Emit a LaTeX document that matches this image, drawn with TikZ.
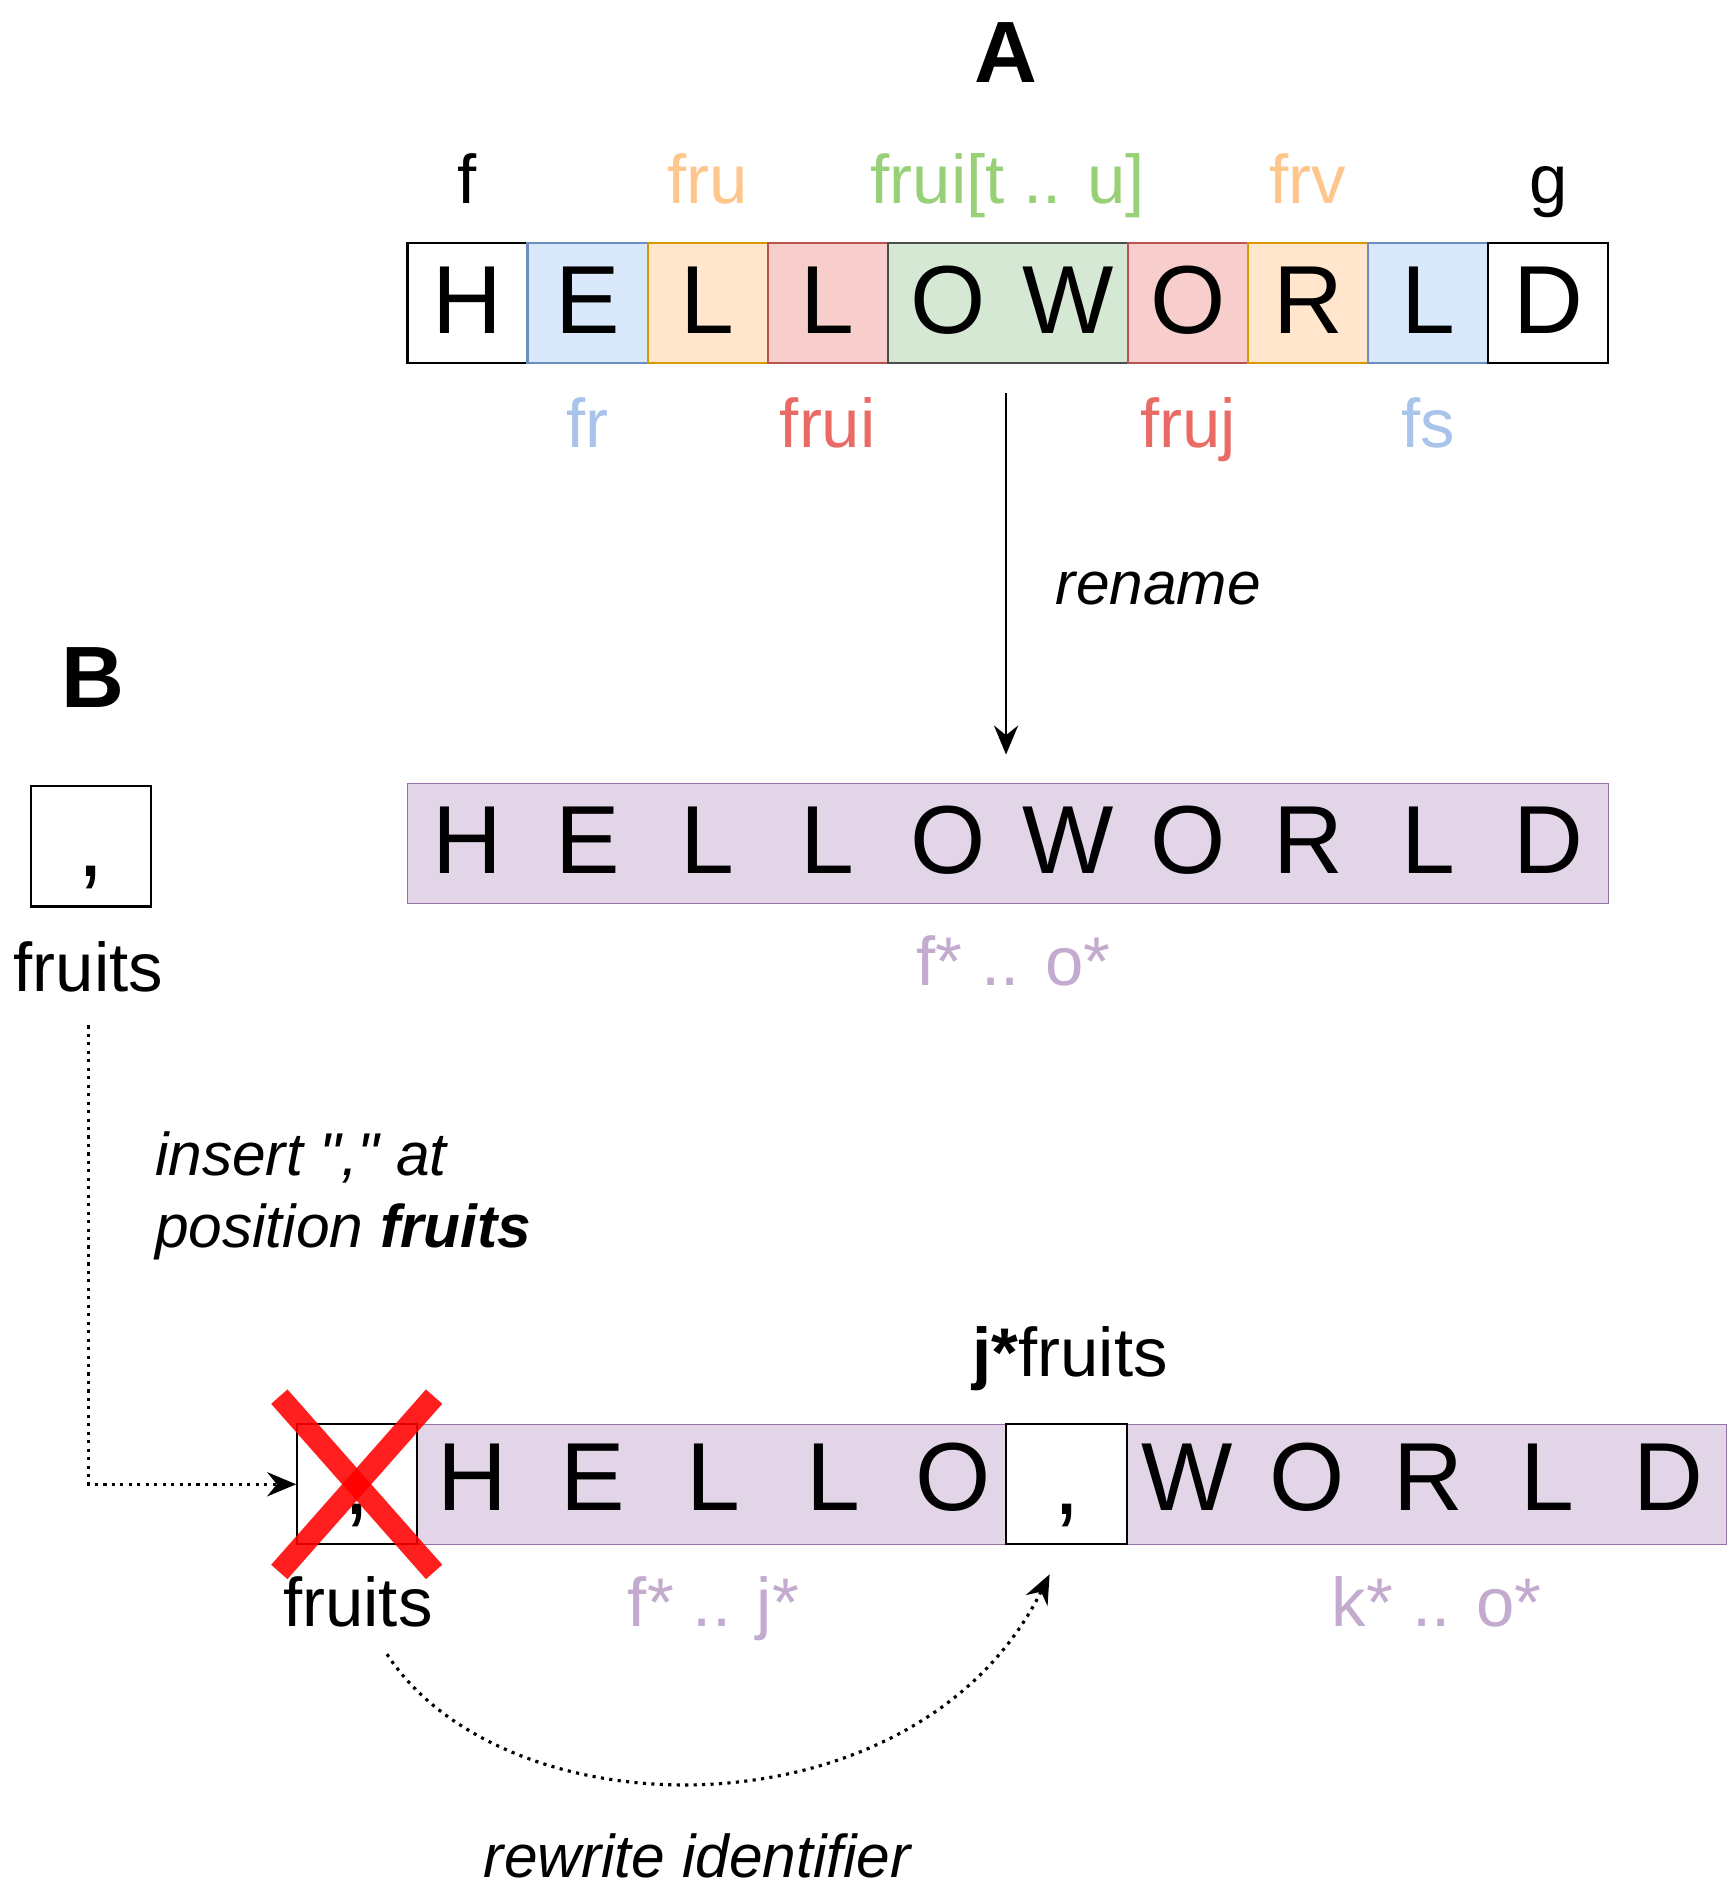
\documentclass[tikz,border=0pt]{standalone}
\usepackage{fontspec}
\setmainfont{Liberation Sans}
\newfontfamily\plainq{Liberation Sans}[Ligatures=TeXOff]
\usetikzlibrary{arrows.meta}
\definecolor{bfill}{HTML}{DAE8FC}\definecolor{bdraw}{HTML}{6C8EBF}
\definecolor{ofill}{HTML}{FFE6CC}\definecolor{odraw}{HTML}{D79B00}
\definecolor{rfill}{HTML}{F8CECC}\definecolor{rdraw}{HTML}{B85450}
\definecolor{gfill}{HTML}{D5E8D4}\definecolor{gdraw}{HTML}{82B366}
\definecolor{pfill}{HTML}{E1D5E7}\definecolor{pdraw}{HTML}{9673A6}
\definecolor{blab}{HTML}{A9C4EB}\definecolor{olab}{HTML}{FFC68C}
\definecolor{rlab}{HTML}{EA6B66}\definecolor{glab}{HTML}{97D077}
\definecolor{plab}{HTML}{C3ABD0}\definecolor{xred}{HTML}{FF0000}
\begin{document}
\begin{tikzpicture}[x=1pt,y=-1pt,
  cell/.style={draw, line width=1.8pt, minimum width=99.3pt, minimum height=99.3pt,
    inner sep=0pt, text height=57.3pt, text depth=7pt, font=\fontsize{80}{80}\selectfont},
  bigl/.style={inner sep=0pt, text height=57.3pt, text depth=7pt, font=\fontsize{80}{80}\selectfont},
  lab/.style={inner sep=0pt, anchor=base, font=\fontsize{57}{57}\selectfont},
  note/.style={inner sep=0pt, anchor=base west, align=left, font=\fontsize{50}{60}\selectfont\itshape},
  ttl/.style={inner sep=0pt, anchor=base, font=\fontsize{72}{72}\selectfont\bfseries},
  tip/.style={-{Stealth[length=24pt,width=20pt,inset=8pt]}},
  arr/.style={line width=2.2pt, tip},
  dotline/.style={line width=2.6pt, dash pattern=on 2.6pt off 4.4pt, tip},
  redx/.style={line width=18pt, draw=xred, opacity=0.88},
]
\useasboundingbox (0,0) rectangle (1432,1568);
\fill[white] (0,0) rectangle (1432,1568);

% ---------- A ----------
\node[ttl] (A) at (832,68) {A};
\node[cell, fill=white, draw=black] (c1) at (386.65,250.5) {H};
\node[cell, fill=bfill, draw=bdraw] (c2) at (485.95,250.5) {E};
\node[cell, fill=ofill, draw=odraw] (c3) at (585.25,250.5) {L};
\node[cell, fill=rfill, draw=rdraw] (c4) at (684.55,250.5) {L};
\node[cell, fill=gfill, draw=black!70, minimum width=198.6pt] (c5) at (833.5,250.5) {};
\node[bigl] (c5a) at (783.85,250.5) {O};
\node[bigl] (c5b) at (883.15,250.5) {W};
\node[cell, fill=rfill, draw=rdraw] (c6) at (982.45,250.5) {O};
\node[cell, fill=ofill, draw=odraw] (c7) at (1081.75,250.5) {R};
\node[cell, fill=bfill, draw=bdraw] (c8) at (1181.05,250.5) {L};
\node[cell, fill=white, draw=black] (c9) at (1280.35,250.5) {D};

\node[lab] (lf) at (386.65,168) {f};
\node[lab, text=olab] (lfru) at (585.25,168) {fru};
\node[lab, text=glab] (lfrui) at (833.5,168) {frui[t .. u]};
\node[lab, text=olab] (lfrv) at (1081.75,168) {frv};
\node[lab] (lg) at (1280.35,168) {g};
\node[lab, text=blab] (lfr) at (485.95,370) {fr};
\node[lab, text=rlab] (lfrui2) at (684.55,370) {frui};
\node[lab, text=rlab] (lfruj) at (982.45,370) {fruj};
\node[lab, text=blab] (lfs) at (1181.05,370) {fs};

% ---------- rename ----------
\node[cell, fill=pfill, draw=pdraw, minimum width=993pt, line width=1.2pt] (r2) at (833.5,697.5) {};
\foreach \ch/\xx [count=\i] in {H/386.65,E/485.95,L/585.25,L/684.55,O/783.85,W/883.15,O/982.45,R/1081.75,L/1181.05,D/1280.35}
  \node[bigl] (r2l\i) at (\xx,697.5) {\ch};
\node[lab, text=plab] (lfo) at (838,815) {f* .. o*};
\coordinate (rs) at (832,325);
\coordinate (re) at (832,624);
\draw[arr] (rs) -- (re);
\node[note] (rename) at (873,500) {rename};

% ---------- B ----------
\node[ttl] (B) at (77,585) {B};
\node[cell, fill=white, draw=black] (comma1) at (75.5,700) {,};
\node[lab] (fruits1) at (73,820) {fruits};

\node[note] (insert) at (128,1032) {insert {\plainq\itshape ","} at\\position \textbf{fruits}};

\node[cell, fill=pfill, draw=pdraw, minimum width=1083pt, line width=1.2pt] (r3) at (886.5,1227.5) {};
\node[cell, fill=white, draw=black] (comma2) at (295.5,1227.5) {,};
\node[cell, fill=white, draw=black, minimum width=100pt] (comma3) at (882,1227.5) {,};
\foreach \ch/\xx [count=\i] in {H/391,E/490,L/590,L/689,O/788,W/982,O/1081,R/1181,L/1280,D/1380}
  \node[bigl] (r3l\i) at (\xx,1224) {\ch};

\node[lab] (jf) at (885,1138) {\textbf{j*}fruits};
\node[lab] (fruits2) at (296,1345) {fruits};
\node[lab, text=plab] (lfj) at (590,1345) {f* .. j*};
\node[lab, text=plab] (lko) at (1188,1345) {k* .. o*};

% red cross
\draw[redx] (231,1155) -- (359,1300);
\draw[redx] (359,1155) -- (231,1300);

% insert connector
\coordinate (ds) at (73,848);
\draw[dotline] (ds) |- (comma2.west);

% rewrite connector
\coordinate (cs) at (320,1368);
\coordinate (ce) at (868,1302);
\draw[dotline] (cs) .. controls (420,1520) and (760,1520) .. (ce);
\node[note] (rewrite) at (400,1553) {rewrite identifier};
\end{tikzpicture}
\end{document}
